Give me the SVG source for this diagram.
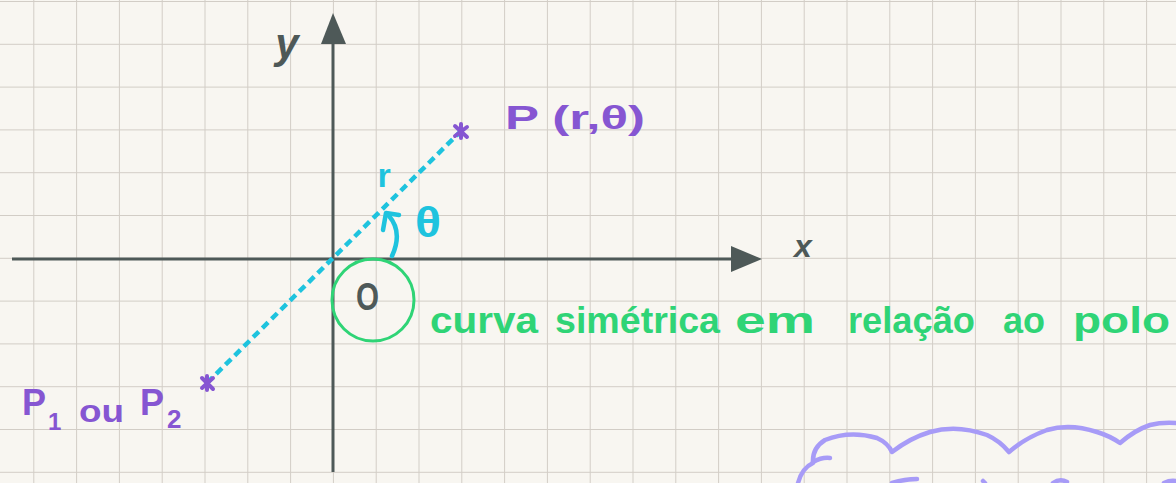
<svg xmlns="http://www.w3.org/2000/svg" width="1176" height="483" viewBox="0 0 1176 483">
<defs>
<pattern id="grid" x="33.3" y="1" width="42.8" height="42.8" patternUnits="userSpaceOnUse">
<path d="M0,0 V42.8 M0,0 H42.8" fill="none" stroke="#d2cdc6" stroke-width="2"/>
</pattern>
</defs>
<style>
.axis{stroke:#4e5958;stroke-width:3;fill:none}
.axhead{fill:#4e5958}
.hand{font-family:"Liberation Sans","DejaVu Sans",sans-serif;font-weight:bold}
.purple{fill:#8656d2}
.cyan{fill:#1ec3de}
.green{fill:#2fd476}
.dark{fill:#4e5958}
.pstroke{stroke:#8656d2;stroke-width:4;stroke-linecap:round;fill:none}
.cloud{stroke:#a79bf7;stroke-width:4.5;stroke-linecap:round;stroke-linejoin:round;fill:none}
</style>
<rect width="1176" height="483" fill="#f8f6f1"/>
<rect width="1176" height="483" fill="url(#grid)"/>

<g id="axes">
<line class="axis" x1="333" y1="40" x2="333" y2="472"/>
<polygon class="axhead" points="333,13 321,44 346,44"/>
<line class="axis" x1="12" y1="259" x2="735" y2="259"/>
<polygon class="axhead" points="762,259 731,246 731,272"/>
<text class="hand dark" x="287" y="58" font-size="42" font-style="italic" text-anchor="middle">y</text>
<text class="hand dark" x="803" y="257" font-size="32" font-style="italic" text-anchor="middle">x</text>
</g>

<g id="connectors">
<line x1="207" y1="383" x2="461" y2="131" stroke="#1ec3de" stroke-width="4.5" stroke-dasharray="8 5"/>
<path d="M392,256 Q403,232 389,216" stroke="#1ec3de" stroke-width="4.5" fill="none" stroke-linecap="round"/>
<path d="M383,230 L386,213 L399,215" stroke="#1ec3de" stroke-width="4.5" fill="none" stroke-linecap="round" stroke-linejoin="round"/>
</g>

<g id="point-P">
<path class="pstroke" d="M455,126 L467,137 M455,136 L467,127 M461,124 L461,138"/>
<text class="hand purple" x="505" y="129" font-size="34" textLength="140" lengthAdjust="spacingAndGlyphs">P (r,θ)</text>
</g>

<g id="point-P1P2">
<path class="pstroke" d="M202,378 L213,389 M202,388 L213,378 M207,376 L207,390"/>
<text class="hand purple" x="22" y="415" font-size="36">P</text>
<text class="hand purple" x="48" y="430" font-size="24">1</text>
<text class="hand purple" x="79" y="422" font-size="32" textLength="45" lengthAdjust="spacingAndGlyphs">ou</text>
<text class="hand purple" x="140" y="415" font-size="36">P</text>
<text class="hand purple" x="167" y="428" font-size="26">2</text>
</g>

<g id="labels-r-theta">
<text class="hand cyan" x="384" y="187" font-size="34" text-anchor="middle">r</text>
<text class="hand cyan" x="415" y="237" font-size="42" textLength="26" lengthAdjust="spacingAndGlyphs">θ</text>
</g>

<g id="pole">
<circle cx="373" cy="300" r="41" fill="none" stroke="#2fd476" stroke-width="3"/>
<text class="hand dark" x="356" y="310" font-size="38" textLength="23" lengthAdjust="spacingAndGlyphs">O</text>
</g>

<g id="note">
<text class="hand green" y="333" font-size="36">
<tspan x="430" textLength="108" lengthAdjust="spacingAndGlyphs">curva</tspan>
<tspan x="555" textLength="165" lengthAdjust="spacingAndGlyphs">simétrica</tspan>
<tspan x="735" textLength="80" lengthAdjust="spacingAndGlyphs">em</tspan>
<tspan x="848" textLength="127" lengthAdjust="spacingAndGlyphs">relação</tspan>
<tspan x="1003" textLength="42" lengthAdjust="spacingAndGlyphs">ao</tspan>
<tspan x="1073" textLength="97" lengthAdjust="spacingAndGlyphs">polo</tspan>
</text>
</g>

<g id="cloud">
<path class="cloud" d="M798,483 Q802,468 813,463 Q812,448 825,440 Q850,430 877,438 Q888,443 892,452 Q910,438 930,432 Q957,424 987,435 Q1000,441 1009,452 Q1025,438 1047,430 Q1070,423 1097,432 Q1110,436 1120,443 Q1135,430 1150,425 Q1162,422 1176,423"/>
<path class="cloud" d="M813,462 Q822,457 830,458"/>
<path class="cloud" d="M892,483 Q905,479 917,479"/>
<path class="cloud" d="M983,481 L985,483"/>
<path class="cloud" d="M1053,483 Q1060,478 1067,482"/>
<path class="cloud" d="M1164,483 Q1170,480 1176,481"/>
</g>
</svg>
